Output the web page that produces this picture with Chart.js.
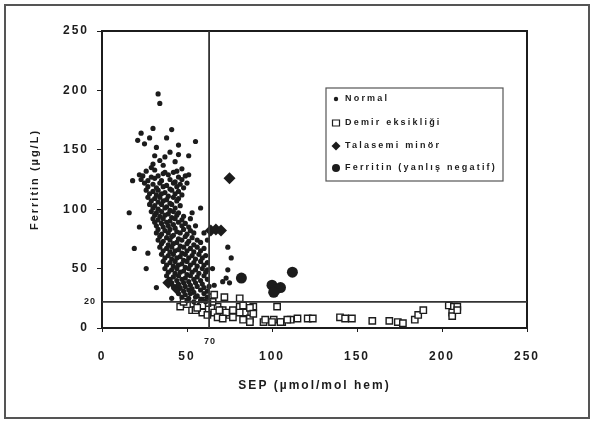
<!DOCTYPE html>
<html>
<head>
<meta charset="utf-8">
<script src="https://cdn.jsdelivr.net/npm/chart.js@4/dist/chart.umd.min.js"></script>
<style>
  html, body { margin: 0; padding: 0; background: #fff; }
  #wrap { width: 592px; height: 422px; }
</style>
</head>
<body>
<div id="wrap"><canvas id="myChart" width="592" height="422"></canvas></div>
<script>
// series labels
var seriesNames = ['Normal', 'Demir eksikliği', 'Talasemi minör', 'Ferritin (yanlış negatif)'];

// axis ticks
var xTicks = [0, 50, 100, 150, 200, 250];
var yTicks = [0, 50, 100, 150, 200, 250];

// cut-off lines (value on the axis, printed label)
var sepCut = 63, sepCutLabel = '70';
var ferCut = 22, ferCutLabel = '20';

// [SEP, ferritin]
var normal = [
  [33,197],[34,189],[30,168],[41,167],[23,164],[21,158],[28,160],[38,160],[55,157],[25,155],
  [32,152],[45,154],[40,148],[34,141],[51,145],[29,135],[47,134],[18,124],[22,129],[36,130],
  [42,131],[51,129],[16,97],[58,101],[53,97],[22,85],[19,67],[27,63],[26,50],[32,34],[41,25],
  [30,138],[36,137],[43,140],[31,145],[37,144],[45,146],
  [26,132],[31,133],[37,131],[44,132],
  [24,128],[29,127],[33,128],[39,129],[45,127],[49,128],
  [23,125],[27,124],[31,126],[35,124],[40,125],[43,123],[47,125],
  [25,122],[30,121],[34,122],[38,120],[42,122],[46,121],[50,122],
  [27,119],[32,118],[36,119],[40,117],[44,119],[48,118],
  [26,116],[30,115],[33,116],[37,114],[41,116],[45,115],
  [28,113],[32,112],[35,113],[39,111],[43,113],[47,112],
  [27,110],[31,109],[34,110],[38,108],[42,110],[45,109],
  [29,107],[33,106],[36,107],[40,105],[44,107],
  [28,104],[31,103],[35,104],[38,102],[41,104],[46,103],
  [30,101],[33,100],[37,101],[40,99],[43,101],
  [29,98],[32,97],[35,98],[39,96],[42,98],[45,97],
  [31,95],[34,94],[37,95],[41,93],[44,95],[48,94],
  [30,92],[33,91],[36,92],[40,90],[43,92],[47,91],[52,92],
  [31,89],[35,88],[38,89],[42,87],[45,89],[49,88],
  [32,86],[36,85],[39,86],[43,84],[47,86],[51,85],[55,86],
  [33,83],[37,82],[40,83],[44,81],[48,83],[52,82],
  [32,80],[35,79],[39,80],[42,78],[46,80],[50,79],[54,80],
  [34,77],[38,76],[41,77],[45,75],[49,77],[53,76],
  [33,74],[36,73],[40,74],[44,72],[47,74],[51,73],[56,74],
  [35,71],[39,70],[42,71],[46,69],[50,71],[54,70],[58,72],
  [34,68],[38,67],[41,68],[45,66],[48,68],[52,67],[56,68],[60,67],
  [36,65],[40,64],[43,65],[47,63],[50,65],[54,64],[58,65],
  [35,62],[39,61],[42,62],[46,60],[49,62],[53,61],[57,62],[61,61],
  [37,59],[41,58],[44,59],[48,57],[51,59],[55,58],[59,59],
  [36,56],[40,55],[43,56],[47,54],[50,56],[54,55],[58,56],[62,55],
  [38,53],[42,52],[45,53],[49,51],[52,53],[56,52],[60,53],
  [37,50],[41,49],[44,50],[48,48],[51,50],[55,49],[59,50],[62,49],
  [39,47],[43,46],[46,47],[50,45],[53,47],[57,46],[61,47],
  [38,44],[42,43],[45,44],[49,42],[52,44],[56,43],[60,44],
  [40,41],[44,40],[47,41],[51,39],[54,41],[58,40],[62,41],
  [41,38],[45,37],[48,38],[52,36],[55,38],[59,37],
  [42,35],[46,34],[49,35],[53,33],[56,35],[60,34],[63,35],
  [44,32],[48,31],[51,32],[54,30],[58,32],[62,31],
  [45,29],[49,28],[52,29],[56,27],[60,29],
  [47,26],[51,25],[55,26],[59,24],[62,26],
  [50,23],[54,22],[58,23],[61,22],
  [74,68],[76,59],[74,49],[73,42],[71,39],[75,38],[66,36],[65,50],[62,74],[60,80]
];
var demir = [
  [46,18],[53,15],[58,18],[59,23],[65,26],[68,18],[66,13],[71,15],[75,11],[81,25],
  [81,18],[84,13],[89,18],[87,8],[95,5],[103,18],[101,7],[106,5],[111,7],[115,8],
  [83,19],[87,17],[89,12],[81,13],[77,15],[73,13],[69,15],[68,9],[71,8],[77,9],
  [83,7],[87,5],[96,7],[100,5],[105,5],[109,7],[121,8],[72,26],[66,28],[65,22],
  [62,21],[59,13],[62,11],[124,8],[140,9],[143,8],[147,8],[159,6],[169,6],[174,5],
  [177,4],[184,7],[186,11],[189,15],[204,19],[207,18],[209,18],[206,13],[206,10],[209,15],
  [55,15],[59,19],[50,20],[56,17],[48,22]
];
var talasemi = [[75,126],[64,82],[67,83],[70,82],[44,33],[39,38]];
var ferritin = [[82,42],[112,47],[100,36],[102,32],[105,34],[101,30]];

function toPts(arr) {
  return arr.map(function(p) { return {x: p[0], y: p[1]}; });
}

var FONT = "'Liberation Sans', Arial, sans-serif";
var INK = '#1c1c1c';

var extras = {
  id: 'extras',
  beforeDraw: function(chart) {
    var c = chart.ctx;
    c.save();
    c.fillStyle = '#fff';
    c.fillRect(0, 0, chart.width, chart.height);
    c.restore();
    c.letterSpacing = '2px';
  },
  afterDraw: function(chart) {
    var c = chart.ctx;
    var a = chart.chartArea;
    var xs = chart.scales.x, ys = chart.scales.y;
    c.save();
    // outer frame
    c.strokeStyle = '#555';
    c.lineWidth = 2;
    c.strokeRect(5, 5, 584, 413);
    // plot frame
    c.strokeStyle = INK;
    c.lineWidth = 2;
    c.strokeRect(a.left, a.top, a.right - a.left, a.bottom - a.top);
    // cut-off lines
    var px = xs.getPixelForValue(sepCut);
    var py = ys.getPixelForValue(ferCut);
    c.strokeStyle = '#333';
    c.lineWidth = 1.8;
    c.beginPath();
    c.moveTo(px, a.top); c.lineTo(px, a.bottom);
    c.moveTo(a.left, py); c.lineTo(a.right, py);
    c.stroke();
    c.fillStyle = INK;
    c.font = 'bold 9px ' + FONT;
    c.letterSpacing = '1px';
    c.textAlign = 'center';
    c.textBaseline = 'middle';
    c.fillText(sepCutLabel, px + 1, a.bottom + 14);
    c.textAlign = 'right';
    c.fillText(ferCutLabel, a.left - 6, py);

    // legend
    var lx = 326, ly = 88, lw = 177, lh = 93;
    c.fillStyle = '#fff';
    c.fillRect(lx, ly, lw, lh);
    c.strokeStyle = '#555';
    c.lineWidth = 1.2;
    c.strokeRect(lx, ly, lw, lh);
    var rows = [99, 123, 146, 168];
    c.font = 'bold 9px ' + FONT;
    c.letterSpacing = '2.2px';
    c.textAlign = 'left';
    for (var i = 0; i < seriesNames.length; i++) {
      var sy = rows[i], sx = 336;
      c.fillStyle = INK;
      c.strokeStyle = INK;
      c.beginPath();
      if (i === 0) {
        c.arc(sx, sy, 2.2, 0, Math.PI * 2); c.fill();
      } else if (i === 1) {
        c.fillStyle = '#fff';
        c.lineWidth = 1.2;
        c.rect(sx - 3.5, sy - 3, 7, 6); c.fill(); c.stroke();
      } else if (i === 2) {
        c.moveTo(sx, sy - 4.5); c.lineTo(sx + 4.5, sy); c.lineTo(sx, sy + 4.5); c.lineTo(sx - 4.5, sy);
        c.closePath(); c.fill();
      } else {
        c.arc(sx, sy, 4, 0, Math.PI * 2); c.fill();
      }
      c.fillStyle = INK;
      c.fillText(seriesNames[i], 345, sy);
    }
    c.restore();
  }
};

window.onload = function() {
  var ctx = document.getElementById('myChart').getContext('2d');
  new Chart(ctx, {
    type: 'scatter',
    data: {
      datasets: [
        { label: seriesNames[0], data: toPts(normal), pointStyle: 'circle', pointRadius: 2.6,
          backgroundColor: INK, borderColor: INK, borderWidth: 0 },
        { label: seriesNames[1], data: toPts(demir), pointStyle: 'rect', pointRadius: 4.5,
          backgroundColor: '#fff', borderColor: INK, borderWidth: 1.4 },
        { label: seriesNames[2], data: toPts(talasemi), pointStyle: 'rectRot', pointRadius: 6,
          backgroundColor: INK, borderColor: INK, borderWidth: 0 },
        { label: seriesNames[3], data: toPts(ferritin), pointStyle: 'circle', pointRadius: 5.5,
          backgroundColor: INK, borderColor: INK, borderWidth: 0 }
      ]
    },
    options: {
      responsive: false,
      animation: false,
      events: [],
      layout: { padding: { left: 28, right: 65, top: 31, bottom: 29 } },
      plugins: { legend: { display: false }, tooltip: { enabled: false } },
      scales: {
        x: {
          type: 'linear', min: xTicks[0], max: xTicks[xTicks.length - 1],
          afterFit: function(s) { s.height = 65; },
          afterBuildTicks: function(s) { s.ticks = xTicks.map(function(v) { return {value: v}; }); },
          grid: { drawOnChartArea: false, drawTicks: true, tickLength: 4, color: INK, lineWidth: 1 },
          border: { color: INK, width: 2 },
          ticks: { color: INK, padding: 17, maxRotation: 0, font: { family: FONT, size: 12, weight: 'bold' } },
          title: { display: true, text: 'SEP (µmol/mol hem)', color: INK, padding: 0,
                   font: { family: FONT, size: 12, weight: 'bold' } }
        },
        y: {
          type: 'linear', min: yTicks[0], max: yTicks[yTicks.length - 1],
          afterFit: function(s) { s.width = 74; },
          afterBuildTicks: function(s) { s.ticks = yTicks.map(function(v) { return {value: v}; }); },
          grid: { drawOnChartArea: false, drawTicks: true, tickLength: 5, color: INK, lineWidth: 1 },
          border: { color: INK, width: 2 },
          ticks: { color: INK, padding: 8, font: { family: FONT, size: 12, weight: 'bold' } },
          title: { display: true, text: 'Ferritin (µg/L)', color: INK, padding: 0,
                   font: { family: FONT, size: 11, weight: 'bold' } }
        }
      }
    },
    plugins: [extras]
  });
};
</script>
</body>
</html>
